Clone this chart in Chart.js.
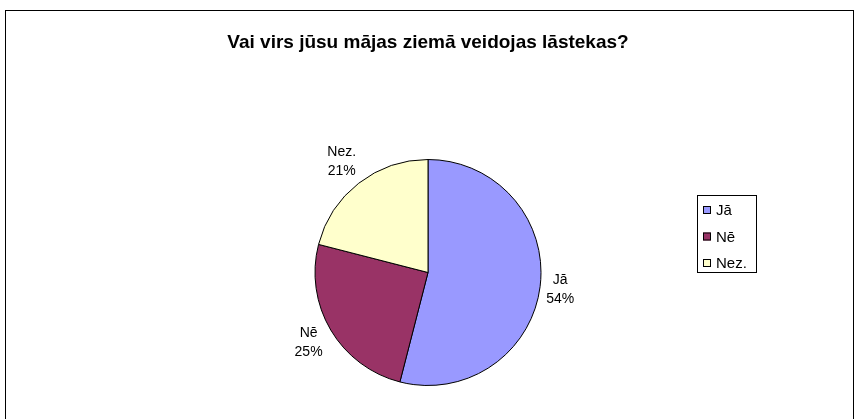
<!DOCTYPE html>
<html>
<head>
<meta charset="utf-8">
<script src="https://cdn.jsdelivr.net/npm/chart.js@4/dist/chart.umd.min.js"></script>
<style>
  html, body { margin: 0; padding: 0; background: #fff; }
  #wrap { width: 855px; height: 419px; }
</style>
</head>
<body>
<div id="wrap"><canvas id="pie"></canvas></div>
<script>
// ─── Data ────────────────────────────────────────────────────────────────
const TITLE = "Vai virs jūsu mājas ziemā veidojas lāstekas?";
const LABELS = ["Jā", "Nē", "Nez."];
const VALUES = [54, 25, 21];
const COLORS = ["#9999FF", "#993366", "#FFFFCC"];

const FONT = "'Liberation Sans', Arial, sans-serif";

// Rāmis ap visu diagrammu + virsraksts (bez saspiešanas pēc laukuma platuma)
const framePlugin = {
  id: "frame",
  beforeDraw(chart) {
    const c = chart.ctx;
    c.save();
    c.strokeStyle = "#000";
    c.lineWidth = 1;
    c.strokeRect(5.5, 10.5, 848, 420);
    c.font = "bold 19px " + FONT;
    c.fillStyle = "#000";
    c.textAlign = "center";
    c.textBaseline = "middle";
    c.fillText(TITLE, 428, 43);
    c.restore();
  },
};

// Datu etiķetes ārpus sektoriem (nosaukums + procenti)
const outsideLabels = {
  id: "outsideLabels",
  afterDatasetsDraw(chart) {
    const c = chart.ctx;
    const meta = chart.getDatasetMeta(0);
    const total = VALUES.reduce((a, b) => a + b, 0);
    c.save();
    c.font = "14px " + FONT;
    c.fillStyle = "#000";
    c.textAlign = "center";
    c.textBaseline = "middle";
    const lineH = 19;
    meta.data.forEach((arc, i) => {
      const mid = (arc.startAngle + arc.endAngle) / 2;
      const l1 = LABELS[i];
      const l2 = Math.round(VALUES[i] / total * 100) + "%";
      const hw = Math.max(c.measureText(l1).width, c.measureText(l2).width) / 2;
      const hh = lineH;
      const cos = Math.cos(mid), sin = Math.sin(mid);
      const d = arc.outerRadius + 4 + Math.abs(cos) * hw + Math.abs(sin) * hh;
      const x = arc.x + cos * d;
      const y = arc.y + sin * d;
      c.fillText(l1, x, y - lineH / 2);
      c.fillText(l2, x, y + lineH / 2);
    });
    c.restore();
  },
};

// Leģenda labajā pusē ar rāmi
const boxLegend = {
  id: "boxLegend",
  afterDraw(chart) {
    const c = chart.ctx;
    const bx = 697.5, by = 195.5, bw = 59, bh = 77;
    c.save();
    c.fillStyle = "#fff";
    c.strokeStyle = "#000";
    c.lineWidth = 1;
    c.fillRect(bx, by, bw, bh);
    c.strokeRect(bx, by, bw, bh);
    c.font = "15px " + FONT;
    c.textBaseline = "middle";
    c.textAlign = "left";
    LABELS.forEach((lab, i) => {
      const cy = 210 + i * 26.5;
      c.fillStyle = COLORS[i];
      c.fillRect(703, cy - 4, 8, 8);
      c.strokeRect(703.5, cy - 3.5, 7, 7);
      c.fillStyle = "#000";
      c.fillText(lab, 716, cy + 1);
    });
    c.restore();
  },
};

new Chart(document.getElementById("pie"), {
  type: "pie",
  data: {
    labels: LABELS,
    datasets: [{
      data: VALUES,
      backgroundColor: COLORS,
      borderColor: "#000",
      borderWidth: 1,
    }],
  },
  options: {
    responsive: true,
    maintainAspectRatio: false,
    animation: false,
    layout: { padding: { left: 314, right: 313, top: 159, bottom: 33 } },
    plugins: {
      legend: { display: false },
      tooltip: { enabled: false },
      title: { display: false },
    },
  },
  plugins: [framePlugin, outsideLabels, boxLegend],
});
</script>
</body>
</html>
